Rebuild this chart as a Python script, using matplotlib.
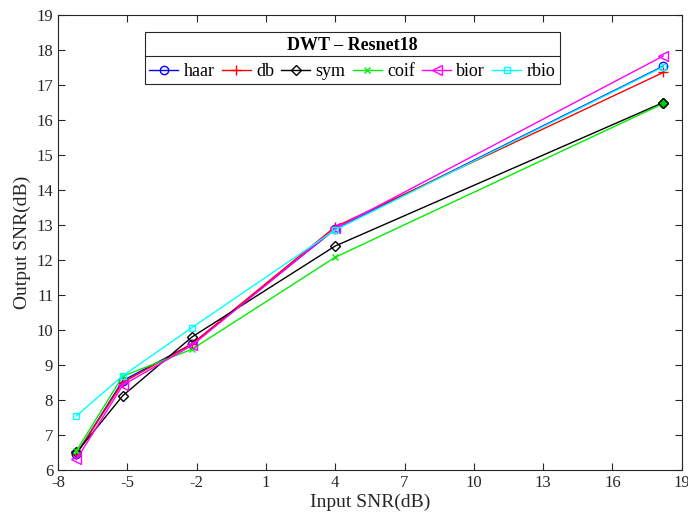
import matplotlib
matplotlib.use("Agg")
from matplotlib import pyplot as plt
from matplotlib.lines import Line2D

plt.rcParams['font.family'] = ['Liberation Serif', 'DejaVu Serif']
plt.rcParams['axes.unicode_minus'] = False

# input SNR values (dB)
snr_in = [-7.2, -5.2, -2.2, 4.0, 18.2]

# output SNR for each wavelet family
haar = [6.45, 8.55, 9.6, 12.88, 17.54]
db = [6.45, 8.5, 9.6, 12.95, 17.36]
sym = [6.5, 8.12, 9.8, 12.4, 16.5]
coif = [6.55, 8.68, 9.45, 12.08, 16.47]
bior = [6.3, 8.42, 9.56, 12.9, 17.83]
rbio = [7.55, 8.69, 10.07, 12.86, 17.52]

xticks = [-8, -5, -2, 1, 4, 7, 10, 13, 16, 19]
yticks = list(range(6, 20))

fig = plt.figure(figsize=(6.88, 5.25), dpi=100)
ax = fig.add_axes([0.0843, 0.1048, 0.9067, 0.8666])

ax.plot(snr_in, haar, color='blue', marker='o', mfc='none', ms=6, lw=1, label='haar')
ax.plot(snr_in, db, color='red', marker='+', ms=7, lw=1, label='db')
ax.plot(snr_in, sym, color='black', marker='D', mfc='none', ms=5, lw=1, label='sym')
ax.plot(snr_in, coif, color='#00ee00', marker='x', ms=5, lw=1, label='coif')
ax.plot(snr_in, bior, color='magenta', marker='<', mfc='none', ms=7, lw=1, label='bior')
ax.plot(snr_in, rbio, color='cyan', marker='s', mfc='none', ms=5, lw=1, label='rbio')

# last sym/coif point is filled green in the reference
ax.plot([snr_in[-1]], [sym[-1]], marker='D', ms=5, color='black', mfc='#00cc00', ls='none')

ax.set_xlim(-8, 19)
ax.set_ylim(6, 19)
ax.set_xticks(xticks)
ax.set_yticks(yticks)
ax.tick_params(direction='in', labelsize=12, length=5, top=True, right=True, labeltop=False,
               labelright=False, colors='#262626')
for s in ax.spines.values():
    s.set_color('#262626')
    s.set_linewidth(0.8)

ax.set_xlabel('Input SNR(dB)', fontsize=14, color='#262626', labelpad=2)
ax.set_ylabel('Output SNR(dB)', fontsize=14, color='#262626', labelpad=4)

leg = ax.legend(ncol=6, loc='upper left', bbox_to_anchor=(0.139, 0.962),
                title='DWT – Resnet18', title_fontproperties={'weight': 'bold', 'size': 13},
                fontsize=13, fancybox=False, edgecolor='#262626', framealpha=1,
                handlelength=1.6, handletextpad=0.3, columnspacing=0.4,
                borderpad=0.25, borderaxespad=0)
leg.get_frame().set_linewidth(0.8)

# separator between legend title and entries
fig.canvas.draw()
bb = leg.get_window_extent()
tb = leg.get_title().get_window_extent()
ysep = (tb.y0 - 2) / fig.bbox.height
fig.add_artist(Line2D([bb.x0 / fig.bbox.width, bb.x1 / fig.bbox.width], [ysep, ysep],
                      color='#262626', lw=0.8, transform=fig.transFigure))

fig.savefig('out.png', dpi=100)
